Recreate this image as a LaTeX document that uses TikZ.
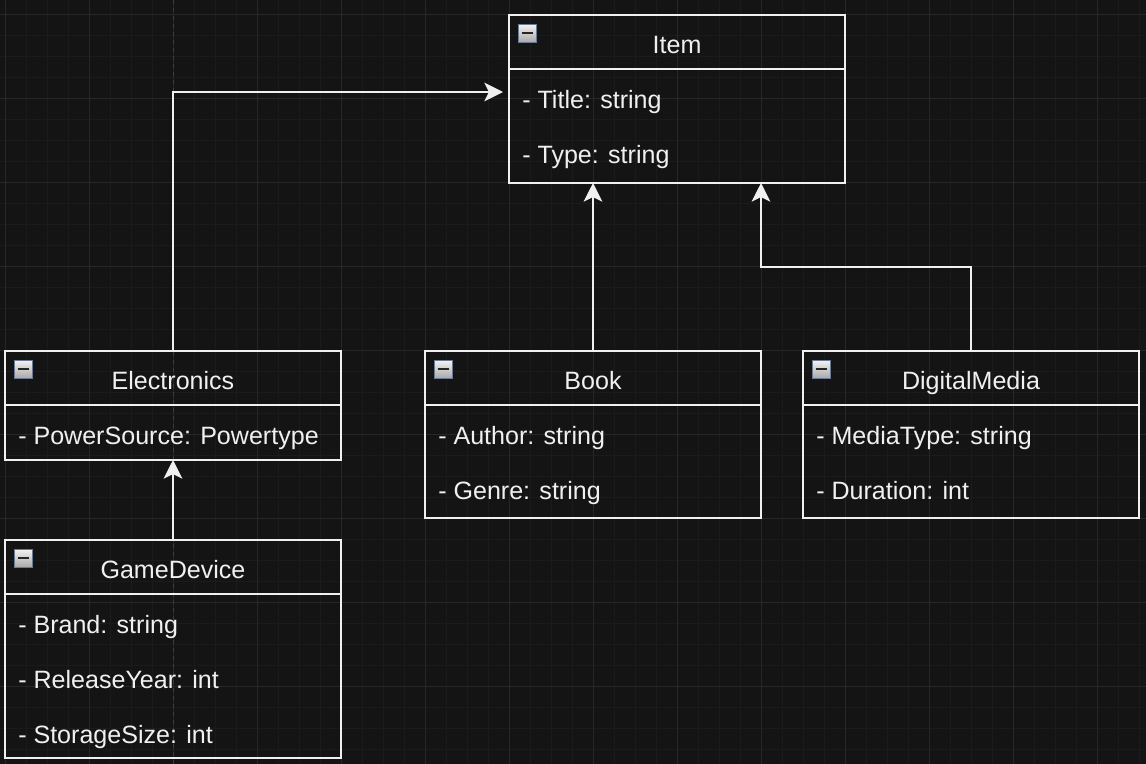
\documentclass[tikz,border=0pt]{standalone}
\usepackage{fontspec}
\setmainfont{Liberation Sans}
\usetikzlibrary{arrows.meta}
\definecolor{bgc}{HTML}{141414}
\definecolor{gridminor}{HTML}{1B1B1B}
\definecolor{gridmajor}{HTML}{272727}
\definecolor{pagebrk}{HTML}{3C3C3C}
\definecolor{fg}{HTML}{F0F0F0}
\definecolor{iconborder}{HTML}{6C7B95}
\definecolor{icontop}{HTML}{F2F2F2}
\definecolor{iconbot}{HTML}{A8A8A8}
\tikzset{
  cls/.style={draw=fg, line width=1.5pt, inner sep=0pt, outer sep=0pt, minimum width=252pt},
  clsline/.style={draw=fg, line width=1.5pt},
  titletxt/.style={text=fg, anchor=base, inner sep=0pt, font=\fontsize{18.8}{22}\selectfont},
  rowtxt/.style={text=fg, anchor=base west, inner sep=0pt, font=\fontsize{18.8}{22}\selectfont},
  conn/.style={draw=fg, line width=1.5pt, -{Stealth[length=14pt, width=14pt, inset=3.5pt]}, fg},
  iconbox/.style={draw=iconborder, line width=1.2pt, top color=icontop, bottom color=iconbot, minimum size=13.5pt, inner sep=0pt, outer sep=0pt, anchor=north west},
}
% #1 name, #2 x, #3 y, #4 height(px), #5 title
\newcommand\umlclass[5]{%
  \node[cls, minimum height=#4*0.75pt, anchor=north west] (#1) at (#2,#3) {};
  \draw[clsline] ([yshift=-40.5pt]#1.north west) -- ([yshift=-40.5pt]#1.north east);
  \node[titletxt] (#1-title) at ([yshift=-28.5pt]#1.north) {#5};
  \node[iconbox] (#1-icon) at ([xshift=7pt,yshift=-7pt]#1.north west) {};
  \draw[line width=1.5pt, black!85] ([xshift=-4.2pt]#1-icon.center) -- ([xshift=4.2pt]#1-icon.center);
}
% #1 class name, #2 row id, #3 row index (1-based), #4 text
\newcommand\umlrow[4]{%
  \node[rowtxt] (#1-#2) at ([xshift=9.75pt,yshift={-28.5pt-41.25pt*#3}]#1.north west) {#4};
}
\begin{document}
\begin{tikzpicture}[x=0.75pt,y=-0.75pt]
  \fill[bgc] (0,0) rectangle (1146,764);
  \useasboundingbox (0,0) rectangle (1146,764);
  % grid
  \foreach \gx in {5,26,...,1146} \draw[gridminor, line width=0.75pt] (\gx,0) -- (\gx,764);
  \foreach \gy in {14,35,...,764} \draw[gridminor, line width=0.75pt] (0,\gy) -- (1146,\gy);
  \foreach \gx in {5,89,...,1146} \draw[gridmajor, line width=0.75pt] (\gx,0) -- (\gx,764);
  \foreach \gy in {14,98,...,764} \draw[gridmajor, line width=0.75pt] (0,\gy) -- (1146,\gy);
  \draw[pagebrk, line width=0.75pt, dash pattern=on 3pt off 3pt] (173,0) -- (173,764);

  % classes
  \umlclass{item}{509}{15}{168}{Item}
  \umlrow{item}{title}{1}{- Title: string}
  \umlrow{item}{type}{2}{- Type: string}

  \umlclass{elec}{5}{351}{109}{Electronics}
  \umlrow{elec}{power}{1}{- PowerSource: Powertype}

  \umlclass{book}{425}{351}{167}{Book}
  \umlrow{book}{author}{1}{- Author: string}
  \umlrow{book}{genre}{2}{- Genre: string}

  \umlclass{dm}{803}{351}{167}{DigitalMedia}
  \umlrow{dm}{mtype}{1}{- MediaType: string}
  \umlrow{dm}{dur}{2}{- Duration: int}

  \umlclass{gd}{5}{540}{218}{GameDevice}
  \umlrow{gd}{brand}{1}{- Brand: string}
  \umlrow{gd}{year}{2}{- ReleaseYear: int}
  \umlrow{gd}{storage}{3}{- StorageSize: int}

  % connectors
  \coordinate (itemL) at (503,92);
  \coordinate (itemB2) at (761,183);
  \draw[conn] (elec.north) |- (itemL);
  \draw[conn] (book.north) -- (book.north |- item.south);
  \draw[conn] (dm.north) -- ++(0,-84) -| (itemB2);
  \draw[conn] (gd.north) -- (elec.south);
\end{tikzpicture}
\end{document}
